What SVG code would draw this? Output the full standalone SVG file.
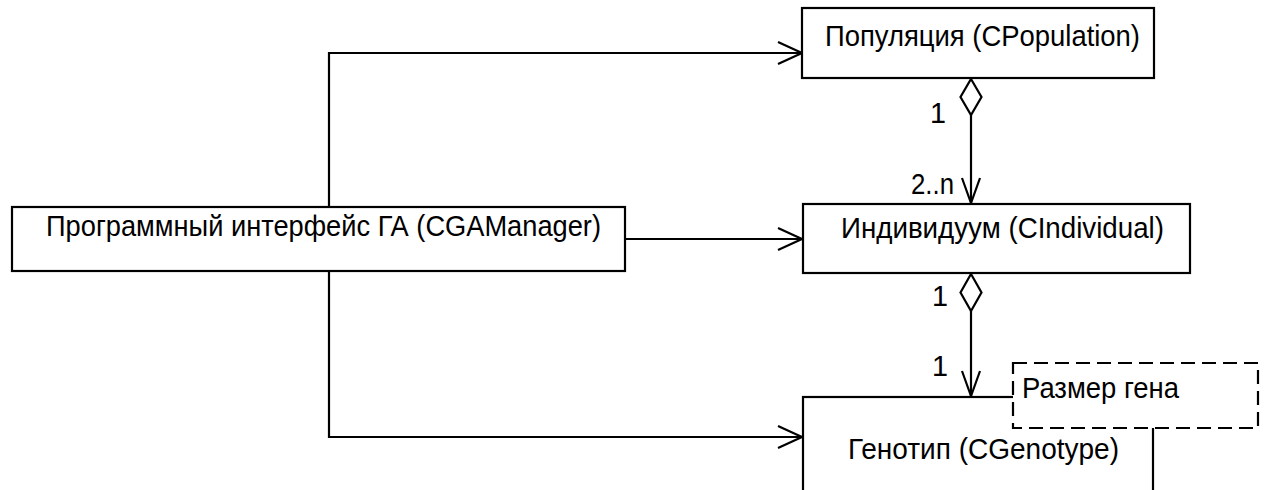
<svg xmlns="http://www.w3.org/2000/svg" width="1264" height="490" viewBox="0 0 1264 490">
<style>
.box{fill:#fff;stroke:#000;stroke-width:2.2}
.note{fill:#fff;stroke:#000;stroke-width:2.2;stroke-dasharray:14 7}
.ln{fill:none;stroke:#000;stroke-width:2.2}
.dia{fill:#fff;stroke:#000;stroke-width:2.2}
text{font-family:"Liberation Sans",Arial,sans-serif;font-size:29px;fill:#000}
</style>
<rect width="1264" height="490" fill="#fff"/>
<g id="connectors">
<polyline class="ln" points="329,207 329,53 802,53"/>
<polyline class="ln" points="778,42 802,53 778,64"/>
<line class="ln" x1="625" y1="239" x2="802" y2="239"/>
<polyline class="ln" points="778,228 802,239 778,250"/>
<polyline class="ln" points="329,271 329,437 802,437"/>
<polyline class="ln" points="778,426 802,437 778,448"/>
<line class="ln" x1="971" y1="115" x2="971" y2="203"/>
<polygon class="dia" points="971,79 981.5,97 971,115 960.5,97"/>
<polyline class="ln" points="962,178 971,203 980,178"/>
<text x="930" y="123" textLength="16" lengthAdjust="spacingAndGlyphs">1</text>
<text x="911" y="194" textLength="43" lengthAdjust="spacingAndGlyphs">2..n</text>
<line class="ln" x1="971" y1="311" x2="971" y2="396"/>
<polygon class="dia" points="971,274 981.5,292.5 971,311 960.5,292.5"/>
<polyline class="ln" points="962,371 971,396 980,371"/>
<text x="932" y="306" textLength="16" lengthAdjust="spacingAndGlyphs">1</text>
<text x="932" y="376" textLength="16" lengthAdjust="spacingAndGlyphs">1</text>
</g>
<g id="manager">
<rect class="box" x="12" y="207" width="613" height="64"/>
<text x="46" y="236" textLength="555" lengthAdjust="spacingAndGlyphs">Программный интерфейс ГА (CGAManager)</text>
</g>
<g id="population">
<rect class="box" x="802" y="8" width="352" height="70"/>
<text x="825" y="46" textLength="315" lengthAdjust="spacingAndGlyphs">Популяция (CPopulation)</text>
</g>
<g id="individual">
<rect class="box" x="803" y="204" width="387" height="69"/>
<text x="841" y="238" textLength="323" lengthAdjust="spacingAndGlyphs">Индивидуум (CIndividual)</text>
</g>
<g id="genotype">
<rect class="box" x="803" y="397" width="350" height="110"/>
<text x="848" y="459" textLength="271" lengthAdjust="spacingAndGlyphs">Генотип (CGenotype)</text>
</g>
<g id="note">
<rect class="note" x="1013" y="363" width="245" height="65"/>
<text x="1022" y="398" textLength="157" lengthAdjust="spacingAndGlyphs">Размер гена</text>
</g>
</svg>
